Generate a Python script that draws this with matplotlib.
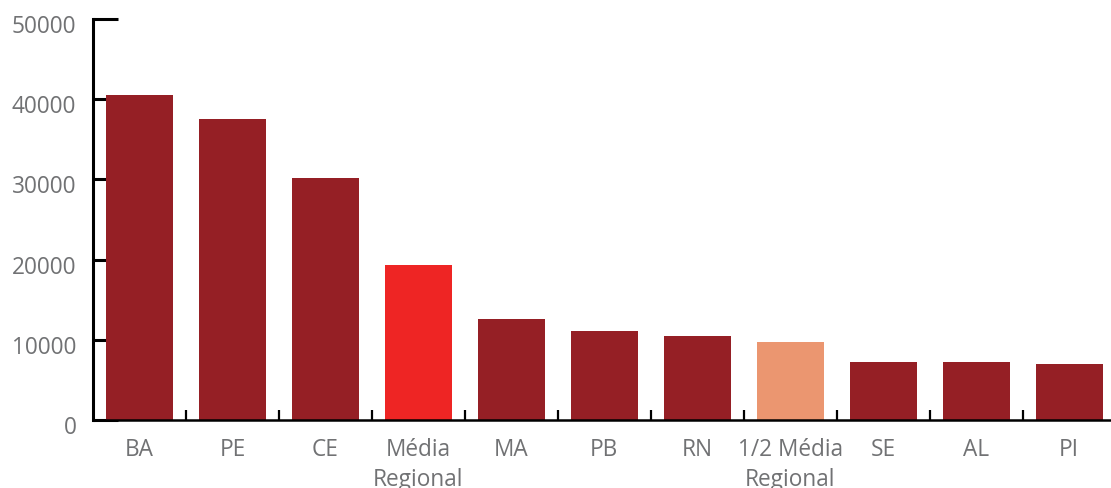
import matplotlib
matplotlib.use("Agg")
import matplotlib.pyplot as plt
from matplotlib.transforms import ScaledTranslation

categories = ["BA", "PE", "CE", "Média\nRegional", "MA", "PB", "RN",
              "1/2 Média\nRegional", "SE", "AL", "PI"]
values = [40520, 37530, 30170, 19330, 12590, 11100, 10470, 9730, 7230, 7230, 6980]
yticks = [0, 10000, 20000, 30000, 40000, 50000]

dark = "#951F25"
colors = [dark, dark, dark, "#EE2524", dark, dark, dark, "#EB9670", dark, dark, dark]
text_color = "#717274"

plt.rcParams['font.family'] = ['Open Sans', 'DejaVu Sans']

fig = plt.figure(figsize=(11.11, 4.88), dpi=100)
ax = fig.add_axes([93/1111, 1 - 420/488, 1 - 93/1111, (420 - 19)/488])

x = list(range(len(categories)))
ax.bar(x, values, width=0.72, color=colors, zorder=2)
ax.set_axisbelow(True)

ax.set_xlim(-0.5, len(categories) - 0.55)
ax.set_ylim(0, 50000)

ax.spines['top'].set_visible(False)
ax.spines['right'].set_visible(False)
ax.spines['left'].set_linewidth(2.2)
ax.spines['bottom'].set_linewidth(1.8)

ax.set_yticks(yticks)
ax.set_yticklabels([str(v) for v in yticks])
ax.tick_params(axis='y', direction='in', length=18, width=2.2, pad=12,
               labelsize=16.3, labelcolor=text_color, color='black')
offset = ScaledTranslation(0, -5/100, fig.dpi_scale_trans)
for lbl in ax.get_yticklabels():
    lbl.set_transform(lbl.get_transform() + offset)

ax.set_xticks([i + 0.5 for i in range(len(categories) - 1)])
ax.set_xticklabels([])
ax.tick_params(axis='x', direction='in', length=7, width=1.6, color='black')
ax.set_xticks(x, minor=True)
ax.set_xticklabels(categories, minor=True, fontsize=16.3, color=text_color,
                   linespacing=1.35, va='top')
ax.tick_params(axis='x', which='minor', length=0, pad=13)

fig.savefig("out.png", dpi=100)
